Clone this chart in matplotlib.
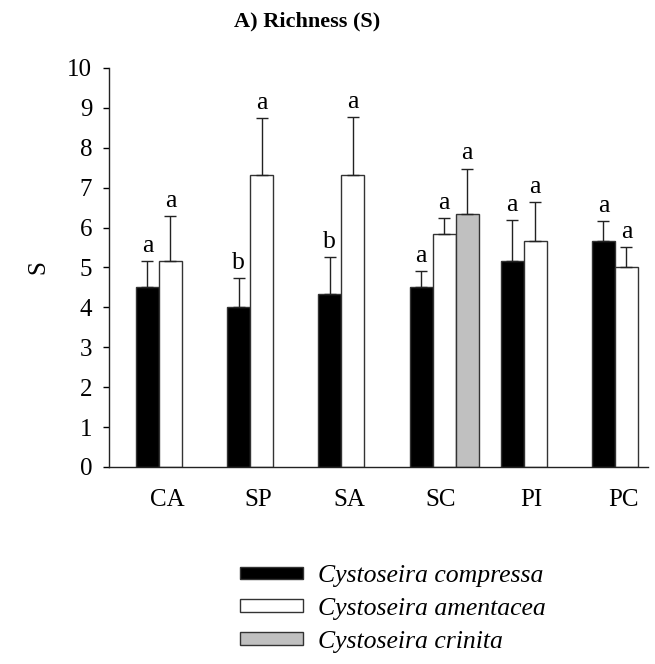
import matplotlib
matplotlib.use("Agg")
import matplotlib.pyplot as plt
import numpy as np
from matplotlib.patches import Patch

plt.rcParams['font.family'] = ['Liberation Serif', 'DejaVu Serif']

sites = ["CA", "SP", "SA", "SC", "PI", "PC"]

# mean richness and standard error per species, None where species absent
compressa = [4.5, 4.0, 4.33, 4.5, 5.17, 5.67]
compressa_se = [0.67, 0.73, 0.94, 0.42, 1.02, 0.5]
compressa_lab = ["a", "b", "b", "a", "a", "a"]

amentacea = [5.17, 7.33, 7.33, 5.83, 5.67, 5.0]
amentacea_se = [1.12, 1.42, 1.44, 0.4, 0.96, 0.52]
amentacea_lab = ["a", "a", "a", "a", "a", "a"]

crinita = [None, None, None, 6.33, None, None]
crinita_se = [None, None, None, 1.15, None, None]
crinita_lab = [None, None, None, "a", None, None]

species = [
    ("Cystoseira compressa", compressa, compressa_se, compressa_lab, "black"),
    ("Cystoseira amentacea", amentacea, amentacea_se, amentacea_lab, "white"),
    ("Cystoseira crinita", crinita, crinita_se, crinita_lab, "#c0c0c0"),
]

fig = plt.figure(figsize=(6.55, 6.64), dpi=100)
ax = fig.add_axes([0.1664, 0.2967, 0.8229, 0.6009])

w = 0.252
x = np.arange(len(sites))

handles = []
for k, (name, vals, se, labs, color) in enumerate(species):
    idx = [i for i, v in enumerate(vals) if v is not None]
    xs = x[idx] + (k + 0.5) * w
    ys = np.array([vals[i] for i in idx])
    es = np.array([se[i] for i in idx])
    ax.bar(xs, ys, width=w, color=color, edgecolor="#333333", linewidth=1, zorder=2)
    ax.errorbar(xs, ys, yerr=[np.zeros_like(es), es], fmt="none", ecolor="#222222",
                elinewidth=1, capsize=4, capthick=1, zorder=3)
    for xi, yi, ei, i in zip(xs, ys, es, idx):
        ax.annotate(labs[i], (xi, yi + ei), xytext=(0, 3), textcoords="offset points",
                    ha="center", va="bottom", fontsize=18.5)
    handles.append(Patch(facecolor=color, edgecolor="#333333", linewidth=1, label=name))

ax.set_xlim(-0.296, 5.614)
ax.set_ylim(0, 10)
ax.set_yticks(range(0, 11))
ax.set_xticks(x + 0.34)
ax.set_xticklabels(sites)
ax.tick_params(axis="y", direction="out", length=4, width=1, pad=8, labelsize=18)
ax.tick_params(axis="x", length=0, pad=16, labelsize=18)
for side in ["top", "right"]:
    ax.spines[side].set_visible(False)
for side in ["left", "bottom"]:
    ax.spines[side].set_linewidth(1)
    ax.spines[side].set_color("#222222")
ax.set_ylabel("S", fontsize=18, labelpad=13)

fig.text(0.469, 0.968, "A) Richness (S)", ha="center", va="center",
         fontsize=16, fontweight="bold")

fig.legend(handles=handles, loc="upper left", bbox_to_anchor=(0.366, 0.149),
           frameon=False, prop={"style": "italic", "size": 18.5},
           handlelength=2.45, handleheight=0.36, handletextpad=0.58,
           labelspacing=0.42, borderpad=0, borderaxespad=0)

fig.savefig("out.png", dpi=100)
